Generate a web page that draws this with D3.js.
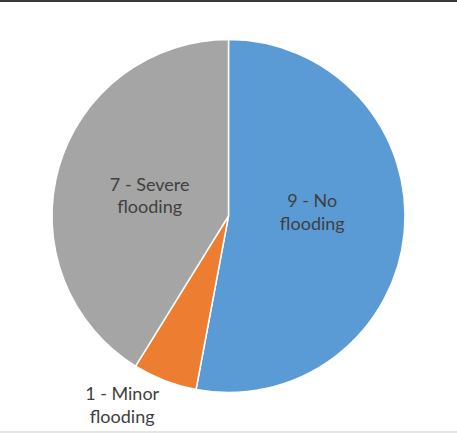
<!DOCTYPE html>
<html><head><meta charset="utf-8">
<script src="https://cdn.jsdelivr.net/npm/d3@7"></script>
<style>html,body{margin:0;padding:0;background:#fff;}svg{display:block;}</style>
</head><body>
<script>
const categories = ["No flooding", "Minor flooding", "Severe flooding"];
const values = [9, 1, 7];
const colors = ["#5b9bd5", "#ed7d31", "#a5a5a5"];

const W = 457, H = 433;
const svg = d3.select("body").append("svg").attr("width", W).attr("height", H);

// frame lines
svg.append("rect").attr("x", 0).attr("y", 0).attr("width", W).attr("height", 2).attr("fill", "#3a3a3a");
svg.append("rect").attr("x", 0).attr("y", 431).attr("width", W).attr("height", 2).attr("fill", "#e4e4e4");

const cx = 228.5, cy = 216, R = 176.5;
const g = svg.append("g").attr("transform", `translate(${cx},${cy})`);

const data = categories.map((c, i) => ({cat: c, value: values[i], color: colors[i]}));
const pie = d3.pie().value(d => d.value).sort(null);
const arcs = pie(data);
const arc = d3.arc().innerRadius(0).outerRadius(R);

g.selectAll("path").data(arcs).join("path")
  .attr("d", arc)
  .attr("fill", d => d.data.color)
  .attr("stroke", "#fff")
  .attr("stroke-width", 1.5);

// label placement: radius and angle fraction inside slice (layout, not data)
const labelLayout = [
  {r: 84, f: 0.45},
  {r: 215, f: 0.9},
  {r: 82, f: 0.5}
];
const labels = g.selectAll("text.lbl").data(arcs).join("text")
  .attr("class", "lbl")
  .attr("font-family", "Lato, 'Open Sans', sans-serif")
  .attr("font-size", 18)
  .attr("fill", "#404040")
  .attr("text-anchor", "middle")
  .attr("transform", (d, i) => {
    const L = labelLayout[i];
    const a = d.startAngle + (d.endAngle - d.startAngle) * L.f;
    return `translate(${L.r * Math.sin(a)},${-L.r * Math.cos(a)})`;
  });
labels.append("tspan").attr("x", 0).attr("dy", "-0.15em").text(d => {
  const parts = d.data.cat.split(" ");
  return d.data.value + " - " + parts[0];
});
labels.append("tspan").attr("x", 0).attr("dy", "1.25em").text(d => d.data.cat.split(" ")[1]);
</script>
</body></html>
